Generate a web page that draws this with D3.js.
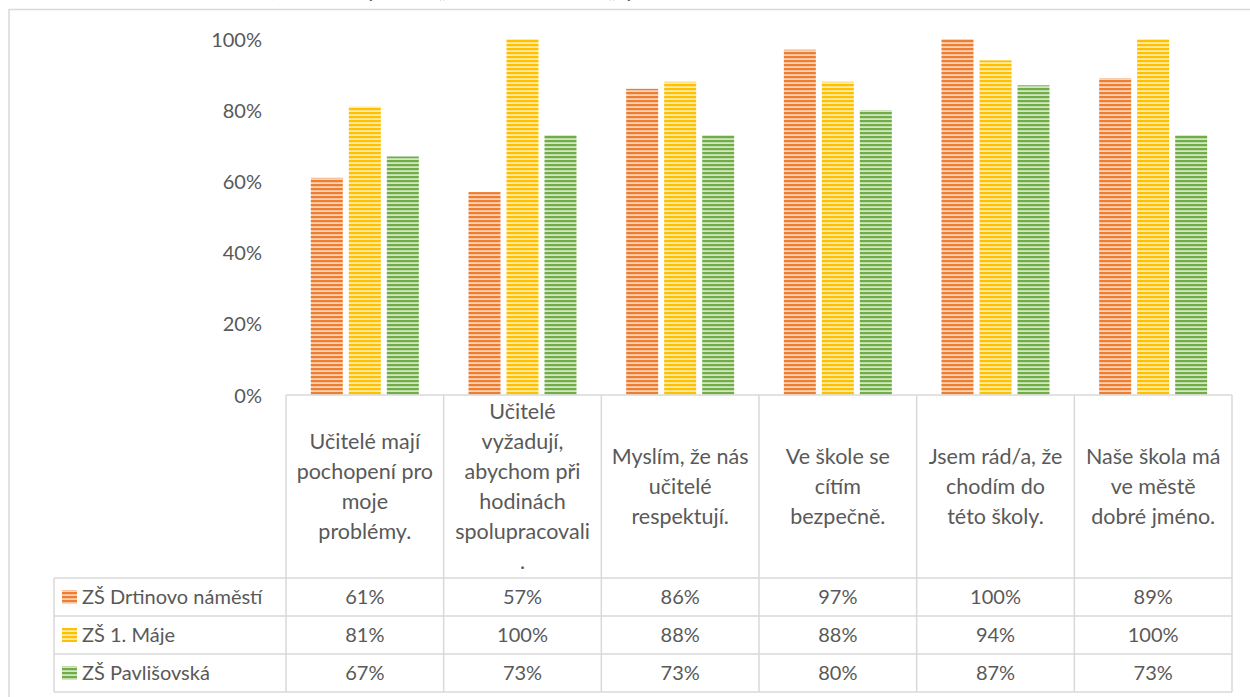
<!DOCTYPE html>
<html><head><meta charset="utf-8">
<script src="https://cdn.jsdelivr.net/npm/d3@7"></script>
<style>
body{margin:0;background:#fff}
svg{display:block}
text{font-family:Lato,"Noto Sans",sans-serif;fill:#595959}
</style>
</head><body>
<svg id="chart" width="1250" height="697"></svg>
<script>
const categories = [
  "Učitelé mají\npochopení pro\nmoje\nproblémy.",
  "Učitelé\nvyžadují,\nabychom při\nhodinách\nspolupracovali\n.",
  "Myslím, že nás\nučitelé\nrespektují.",
  "Ve škole se\ncítím\nbezpečně.",
  "Jsem rád/a, že\nchodím do\ntéto školy.",
  "Naše škola má\nve městě\ndobré jméno."
];
const seriesNames = ["ZŠ Drtinovo náměstí", "ZŠ 1. Máje", "ZŠ Pavlišovská"];
const drtinovo = [61, 57, 86, 97, 100, 89];
const maje = [81, 100, 88, 88, 94, 100];
const pavlisovska = [67, 73, 73, 80, 87, 73];
const yTicks = [0, 20, 40, 60, 80, 100];
const titleText = "Vztah žáků ke škole (součet odpovědí „rozhodně ano“ a „spíše ano“)";

const seriesValues = [drtinovo, maje, pavlisovska];
const colors = ["#ED7D31", "#FFC000", "#70AD47"];
const lights = ["#FAD3B8", "#FFEBB0", "#D3E7C6"];

const svg = d3.select("#chart");
const gridColor = "#d9d9d9";

// patterns
const defs = svg.append("defs");
colors.forEach((c, i) => {
  const p = defs.append("pattern").attr("id", "pat" + i)
    .attr("patternUnits", "userSpaceOnUse").attr("width", 4).attr("height", 4);
  p.append("rect").attr("width", 4).attr("height", 4).attr("fill", lights[i]);
  p.append("rect").attr("width", 4).attr("height", 2.2).attr("fill", c);
});

// outer chart border
svg.append("path").attr("d", "M9,700 V9.5 H1260")
  .attr("fill", "none").attr("stroke", gridColor).attr("stroke-width", 1.5);

// title (cut off at top, only descenders visible)
svg.append("text").attr("x", 720).attr("y", -3.5).attr("text-anchor", "end")
  .style("font-size", "22px").text(titleText);

const plotLeft = 286, plotRight = 1232;
const y0 = 395, y100 = 39;

const x = d3.scaleBand().domain(d3.range(categories.length)).range([plotLeft, plotRight]);
const xs = d3.scaleBand().domain(d3.range(seriesNames.length)).range([0, x.bandwidth()])
  .paddingInner(0.158).paddingOuter(0.654);
const y = d3.scaleLinear().domain([0, 100]).range([y0, y100]);

// y axis labels
const yAxis = d3.axisLeft(y).tickValues(yTicks).tickFormat(d => d + "%").tickSize(0).tickPadding(0);
const ga = svg.append("g").attr("transform", "translate(262,0)").call(yAxis);
ga.select(".domain").remove();
ga.selectAll("text").style("font-family", "Lato").style("font-size", "20px")
  .attr("fill", "#595959").attr("dy", "0.35em");

// bars
seriesValues.forEach((vals, si) => {
  svg.append("g").selectAll("rect").data(vals).join("rect")
    .attr("x", (d, i) => x(i) + xs(si))
    .attr("width", xs.bandwidth())
    .attr("y", d => y(d))
    .attr("height", d => y(0) - y(d))
    .attr("fill", "url(#pat" + si + ")");
});

// table
const rowTop = 395, headerBottom = 578, rowH = 38;
const legendLeft = 54;
const tableBottom = headerBottom + rowH * seriesNames.length;
const lines = svg.append("g").attr("stroke", gridColor).attr("stroke-width", 1.5).attr("fill", "none");
lines.append("line").attr("x1", plotLeft).attr("x2", plotRight).attr("y1", rowTop).attr("y2", rowTop);
for (let r = 0; r <= seriesNames.length; r++) {
  const yy = headerBottom + r * rowH;
  lines.append("line").attr("x1", legendLeft).attr("x2", plotRight).attr("y1", yy).attr("y2", yy);
}
x.domain().forEach(i => {
  lines.append("line").attr("x1", x(i)).attr("x2", x(i)).attr("y1", rowTop).attr("y2", tableBottom);
});
lines.append("line").attr("x1", plotRight).attr("x2", plotRight).attr("y1", rowTop).attr("y2", tableBottom);
lines.append("line").attr("x1", legendLeft).attr("x2", legendLeft).attr("y1", headerBottom).attr("y2", tableBottom);

// header category labels
const hdrMid = (rowTop + headerBottom) / 2;
categories.forEach((c, i) => {
  const parts = c.split("\n");
  const t = svg.append("text").attr("text-anchor", "middle").style("font-size", "21.5px");
  parts.forEach((p, k) => {
    t.append("tspan").attr("x", x(i) + x.bandwidth() / 2)
      .attr("y", hdrMid + (k - (parts.length - 1) / 2) * 30)
      .attr("dy", "0.35em").text(p);
  });
});

// data rows
seriesNames.forEach((name, si) => {
  const cy = headerBottom + si * rowH + rowH / 2;
  svg.append("rect").attr("x", 62).attr("y", cy - 7).attr("width", 15).attr("height", 14)
    .attr("fill", "url(#pat" + si + ")");
  svg.append("text").attr("x", 82).attr("y", cy).attr("dy", "0.35em")
    .style("font-size", "20px").text(name);
  svg.append("g").selectAll("text").data(seriesValues[si]).join("text")
    .attr("x", (d, i) => x(i) + x.bandwidth() / 2).attr("y", cy).attr("dy", "0.35em")
    .attr("text-anchor", "middle").style("font-size", "20px").text(d => d + "%");
});
</script>
</body></html>
